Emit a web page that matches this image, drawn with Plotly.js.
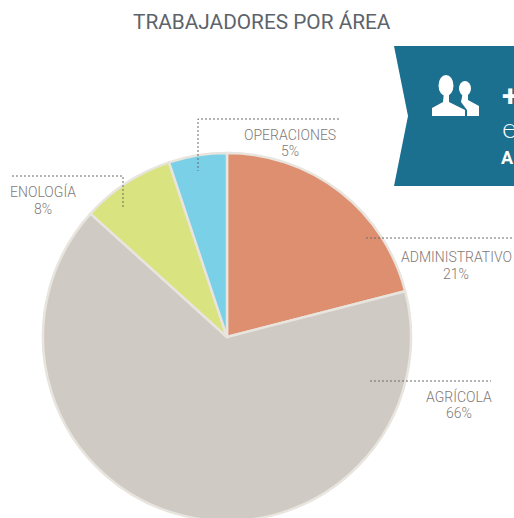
<!DOCTYPE html>
<html><head><meta charset="utf-8">
<script src="https://cdn.plot.ly/plotly-3.0.1.min.js"></script>
<style>html,body{margin:0;padding:0;background:#fff;overflow:hidden}#c{width:514px;height:530px}</style>
</head><body><div id="c"></div>
<script>
const categories = ["ADMINISTRATIVO","AGRÍCOLA","ENOLOGÍA","OPERACIONES"];
const percentLabels = [21,66,8,5];
const sliceValues = [21,65.7,8.2,5.1];
const colors = ["#de8f70","#cfcac4","#d9e37f","#7ad0e6"];
const labelPos = [[456,248,265],[459,387,404],[43,182,200],[290,126,142]];
const W=514,H=530;
const px=x=>x/W, py=y=>1-y/H;
const cx=227,cy=337,r=184;
const leaders=[
 [[366,238],[514,238]],
 [[370,381],[491,381]],
 [[12,176],[123,176],[123,207]],
 [[339,119],[198,119],[198,171]]
];
const pathOf=pts=>pts.map((p,i)=>(i?'L':'M')+px(p[0])+','+py(p[1])).join(' ');
const banner=[[394,46],[514,46],[514,186],[394,186],[408,116]];
const bigBody=[[432,116],[432,108],[443,102],[444,92],[449,92],[449,102],[465,110],[465,116]];
const smallBody=[[467,116],[467,110],[461,102],[463,92],[468,92],[468,100],[479,106],[479,116]];
const head=(x0,x1,y0,y1)=>({type:'circle',xref:'paper',yref:'paper',x0:px(x0),x1:px(x1),y0:py(y1),y1:py(y0),fillcolor:'#ffffff',line:{width:0}});
const shapes=[
 {type:'path',xref:'paper',yref:'paper',path:pathOf(banner)+' Z',fillcolor:'#1b6f8f',line:{width:0},layer:'below'},
 {type:'path',xref:'paper',yref:'paper',path:pathOf(bigBody)+' Z',fillcolor:'#ffffff',line:{width:0}},
 {type:'path',xref:'paper',yref:'paper',path:pathOf(smallBody)+' Z',fillcolor:'#ffffff',line:{width:0}},
 head(438.5,453.5,75,96),
 head(459,471,81,96)
];
leaders.forEach(l=>shapes.push({type:'path',xref:'paper',yref:'paper',path:pathOf(l),line:{color:'#6f6a66',width:1,dash:'2px,2px'}}));
const labelFont={family:'Roboto, sans-serif',size:14,weight:300,color:'#7f7975'};
const lab=(t,x,y)=>({xref:'paper',yref:'paper',x:px(x),y:py(y),xanchor:'center',yanchor:'top',showarrow:false,align:'center',text:t,font:labelFont,borderpad:0});
const annotations=[];
categories.forEach((c,i)=>{
 annotations.push(lab(c,labelPos[i][0],labelPos[i][1]));
 annotations.push(lab(percentLabels[i]+'%',labelPos[i][0],labelPos[i][2]));
});
const ann=(t,x,y,size,fam,w)=>({xref:'paper',yref:'paper',x:px(x),y:py(y),xanchor:'left',yanchor:'middle',showarrow:false,text:t,font:{family:fam,size:size,weight:w,color:'#ffffff'},borderpad:0});
annotations.push(ann('+',501,96,30,'Roboto, sans-serif',700));
annotations.push(ann('e',501,127,28,'Lato, sans-serif',300));
annotations.push(ann('A',500,158,18,'Roboto, sans-serif',700));
annotations.push({xref:'paper',yref:'paper',x:px(261.5),y:py(22),xanchor:'center',yanchor:'middle',showarrow:false,text:'TRABAJADORES POR ÁREA',font:{family:'Roboto, sans-serif',size:20.8,weight:400,color:'#5c636b'}});
Plotly.newPlot('c',[{
 type:'pie',labels:categories,values:sliceValues,sort:false,direction:'clockwise',rotation:0,
 marker:{colors:colors,line:{color:'#e8e4de',width:2.5}},textinfo:'none',hoverinfo:'none',showlegend:false,
 domain:{x:[px(cx-r),px(cx+r)],y:[py(cy+r),py(cy-r)]}
}],{width:W,height:H,margin:{l:0,r:0,t:0,b:0},paper_bgcolor:'#fff',showlegend:false,shapes:shapes,annotations:annotations},{displayModeBar:false,staticPlot:true});
</script></body></html>
